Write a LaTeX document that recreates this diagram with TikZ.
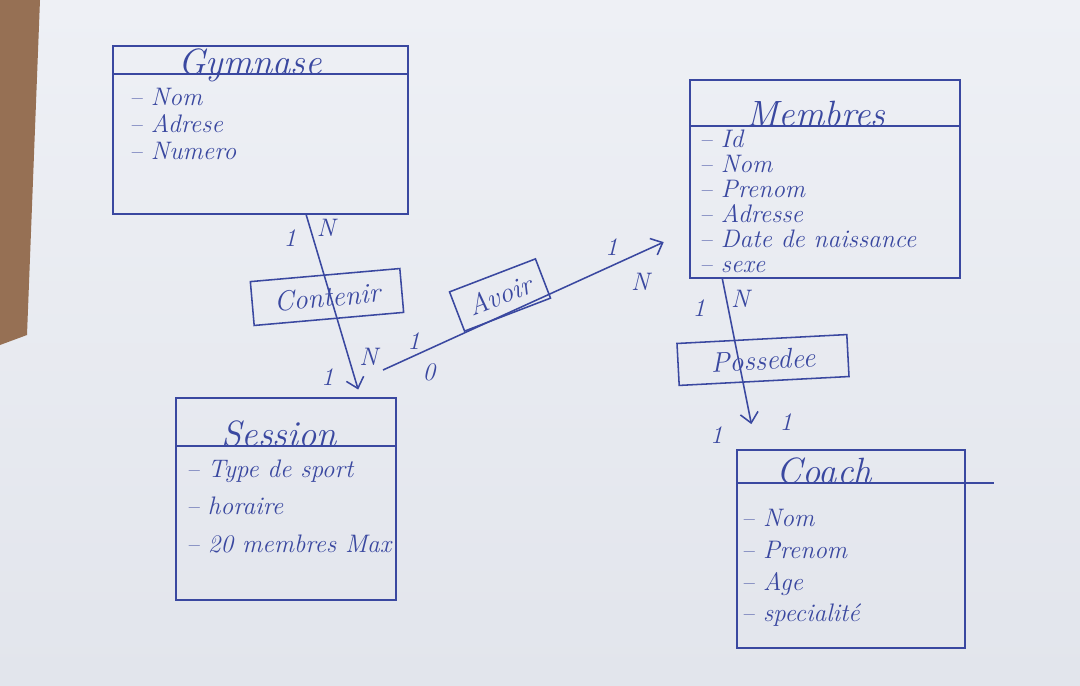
\documentclass[tikz,border=0pt]{standalone}
\usepackage{tikz}
\usetikzlibrary{arrows.meta, positioning, calc}
\definecolor{ink}{RGB}{58,72,160}
\definecolor{paper}{RGB}{226,229,236}
\definecolor{paperlight}{RGB}{238,240,245}
\definecolor{wood}{RGB}{150,112,84}
\tikzset{%
	entity/.style={draw=ink, line width=1.1pt, rectangle, inner sep=0mm},
	title/.style={anchor=base, inner sep=0mm, text=ink, font=\fontsize{26}{30}\selectfont\itshape},
	attrs/.style={anchor=north west, align=left, inner sep=0mm, text=ink,%
		font=\fontsize{18}{#1}\selectfont\itshape},
	assoc/.style={draw=ink, line width=1.1pt, rectangle, inner sep=0mm, text=ink,%
		font=\fontsize{20}{24}\selectfont\itshape},
	link/.style={draw=ink, line width=1.1pt},
	card/.style={text=ink, inner sep=0.5mm, font=\fontsize{18}{20}\selectfont\itshape},
	>={Straight Barb[length=2.5mm, width=4.5mm]}
}

\begin{document}
\begin{tikzpicture}[x=0.025cm, y=-0.025cm]
	% sheet of paper on the table
	\shade[top color=paperlight, bottom color=paper] (0,0) rectangle (1080,685);
	\fill[wood] (0,0) -- (40,0) -- (27,335) -- (0,345) -- cycle;

	% entities
	\node[entity, minimum width=7.375cm, minimum height=4.2cm] (gymnase) at (260.5,130) {};
	\node[title] (gymnase-t) at ($(gymnase.north west)+(138,29)$) {Gymnase};
	\draw[link] (gymnase.west |- gymnase-t.base) -- (gymnase.east |- gymnase-t.base);
	\node[attrs=19pt] (gymnase-a) at ($(gymnase.west |- gymnase-t.base)+(17,14)$)
		{-- Nom\\ -- Adrese\\ -- Numero};

	\node[entity, minimum width=6.75cm, minimum height=4.95cm] (membres) at (825,179) {};
	\node[title] (membres-t) at ($(membres.north west)+(127,47)$) {Membres};
	\draw[link] (membres.west |- membres-t.base) -- (membres.east |- membres-t.base);
	\node[attrs=17.8pt] (membres-a) at ($(membres.west |- membres-t.base)+(10,3)$)
		{-- Id\\ -- Nom\\ -- Prenom\\ -- Adresse\\ -- Date de naissance\\ -- sexe};

	\node[entity, minimum width=5.5cm, minimum height=5.05cm] (session) at (286,499) {};
	\node[title] (session-t) at ($(session.north west)+(104,49)$) {Session};
	\draw[link] (session.west |- session-t.base) -- (session.east |- session-t.base);
	\node[attrs=26.7pt] (session-a) at ($(session.west |- session-t.base)+(11,13)$)
		{-- Type de sport\\ -- horaire\\ -- 20 membres Max};

	\node[entity, minimum width=5.7cm, minimum height=4.95cm] (coach) at (851,549) {};
	\node[title] (coach-t) at ($(coach.north west)+(88,34)$) {Coach};
	\draw[link] (coach.west |- coach-t.base) -- ($(coach.east |- coach-t.base)+(28,0)$);
	\node[attrs=22.5pt] (coach-a) at ($(coach.west |- coach-t.base)+(5,26)$)
		{-- Nom\\ -- Prenom\\ -- Age\\ -- specialit\'e};

	% associations
	\node[assoc, minimum width=3.75cm, minimum height=1.1cm, rotate=5] (contenir) at (327,297) {Contenir};
	\node[assoc, minimum width=2.3cm, minimum height=1.05cm, rotate=21] (avoir) at (500,295) {Avoir};
	\node[assoc, minimum width=4.25cm, minimum height=1.05cm, rotate=3] (possedee) at (763,360) {Possedee};

	% links with cardinalities
	\coordinate (avoir-start) at (383,370);
	\draw[link, ->, shorten >=0.2cm]
		($(gymnase.south west)!.654!(gymnase.south east)$)
		-- node[card, pos=.07, right=1mm] (c1) {N}
		   node[card, pos=.125, left=3.5mm] (c2) {1}
		   node[card, pos=.78, right=2mm] (c3) {N}
		   node[card, pos=.89, left=4.5mm] (c4) {1}
		($(session.north west)!.836!(session.north east)$);
	\draw[link, ->, shorten >=0.7cm]
		(avoir-start)
		-- node[card, pos=.1, above=1mm] (c5) {1}
		   node[card, pos=.15, below=3mm] (c6) {0}
		   node[card, pos=.746, above=2mm] (c7) {1}
		   node[card, pos=.84, below=4.5mm] (c8) {N}
		($(membres.south west)!.242!(membres.north west)$);
	\draw[link, ->, shorten >=0.64cm]
		($(membres.south west)!.122!(membres.south east)$)
		-- node[card, pos=.17, left=5mm] (c9) {1}
		   node[card, pos=.116, right=0.5mm] (c10) {N}
		   node[card, pos=.92, left=7mm] (c11) {1}
		   node[card, pos=.84, right=6.5mm] (c12) {1}
		($(coach.north west)!.088!(coach.north east)$);
\end{tikzpicture}
\end{document}
